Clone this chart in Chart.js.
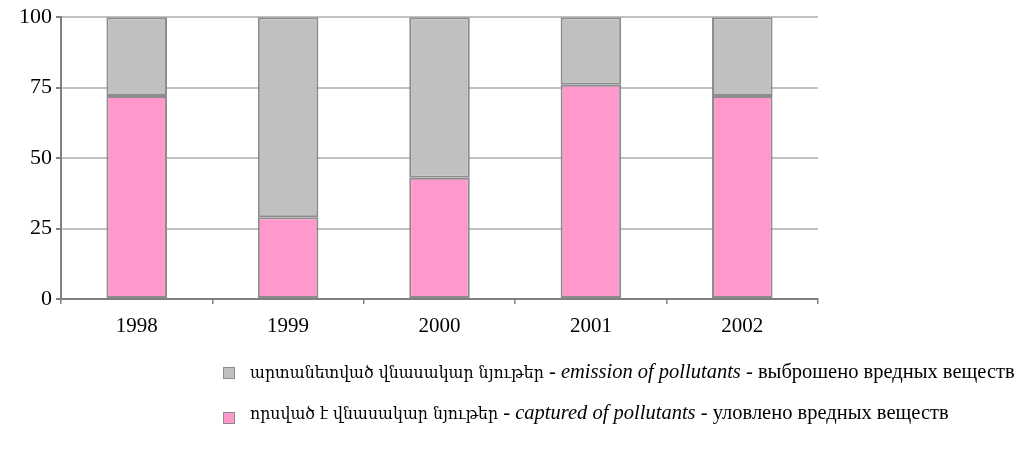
<!DOCTYPE html>
<html>
<head>
<meta charset="utf-8">
<script src="https://cdn.jsdelivr.net/npm/chart.js@4"></script>
<style>
    body { margin: 0; background: #fff; }
    #wrap { position: relative; width: 1034px; height: 456px; overflow: hidden; }
    #legend { position: absolute; left: 0; top: 0; font-family: "Liberation Serif", "DejaVu Serif", serif; font-size: 20.5px; color: #000; }
    .row { position: absolute; left: 223px; white-space: nowrap; height: 24px; line-height: 24px; }
    .box { position: absolute; left: 0; width: 10px; height: 10px; border: 1px solid #8c8c8c; }
    .txt { position: absolute; left: 27px; top: 0; }
    .arm { font-family: "DejaVu Serif Condensed", "DejaVu Serif", serif; font-size: 17.5px; }
</style>
</head>
<body>
<div id="wrap">
    <canvas id="myChart" width="1034" height="456"></canvas>
    <div id="legend"></div>
</div>
<script>
var years = ["1998", "1999", "2000", "2001", "2002"];
var captured = [72, 29, 43, 76, 72];
var emitted = [28, 71, 57, 24, 28];
var yTicks = [0, 25, 50, 75, 100];

var labelsArm = ["արտանետված վնասակար նյութեր", "որսված է վնասակար նյութեր"];
var labelsEng = ["emission of pollutants", "captured of  pollutants"];
var labelsRus = ["выброшено вредных веществ", "уловлено вредных веществ"];

var gray = '#c0c0c0';
var pink = '#ff99cc';
var serif = "'Liberation Serif', 'Times New Roman', serif";

function makeLegend() {
    var colors = [gray, pink];
    var tops = [359, 400];
    var html = "";
    for (var i = 0; i < 2; i++) {
        var sep = i == 0 ? " - " : " -  ";
        html += "<div class='row' style='top:" + tops[i] + "px'>" +
            "<div class='box' style='background:" + colors[i] + ";top:" + (i == 0 ? 8 : 12) + "px'></div>" +
            "<div class='txt'><span class='arm'>" + labelsArm[i] + "</span>" + sep + "<i>" + labelsEng[i] + "</i> - " + labelsRus[i] + "</div></div>";
    }
    document.getElementById("legend").innerHTML = html;
}

function makeChart() {
    var ctx = document.getElementById("myChart");
    var myChart = new Chart(ctx, {
        type: 'bar',
        data: {
            labels: years,
            datasets: [{
                label: labelsEng[1],
                data: captured,
                backgroundColor: pink,
                borderColor: '#8c8c8c',
                borderWidth: 2,
                borderSkipped: false
            },
                {
                    label: labelsEng[0],
                    data: emitted,
                    backgroundColor: gray,
                    borderColor: '#8c8c8c',
                    borderWidth: 2,
                    borderSkipped: false
                }]
        },
        options: {
            responsive: false,
            animation: false,
            layout: { padding: { left: 0, top: 17, right: 216, bottom: 107 } },
            plugins: { legend: { display: false }, tooltip: { enabled: false } },
            datasets: { bar: { barPercentage: 0.4, categoryPercentage: 1 } },
            scales: {
                x: {
                    stacked: true,
                    offset: true,
                    grid: { offset: true, drawOnChartArea: false, drawTicks: true, tickLength: 5, color: '#808080', lineWidth: 1.5 },
                    border: { color: '#808080', width: 2 },
                    ticks: { color: '#000', padding: 10, font: { family: serif, size: 21 } },
                    afterFit: function (scale) { scale.height = 50; }
                },
                y: {
                    stacked: true,
                    min: 0,
                    max: 100,
                    afterBuildTicks: function (scale) {
                        scale.ticks = yTicks.map(function (v) { return { value: v }; });
                    },
                    grid: { color: '#c0c0c0', lineWidth: 2, tickLength: 5, tickColor: '#808080' },
                    border: { color: '#808080', width: 2 },
                    ticks: { color: '#000', padding: 4, font: { family: serif, size: 22 } },
                    afterFit: function (scale) { scale.width = 61; }
                }
            }
        }
    });
}

makeLegend();
makeChart();
</script>
</body>
</html>
